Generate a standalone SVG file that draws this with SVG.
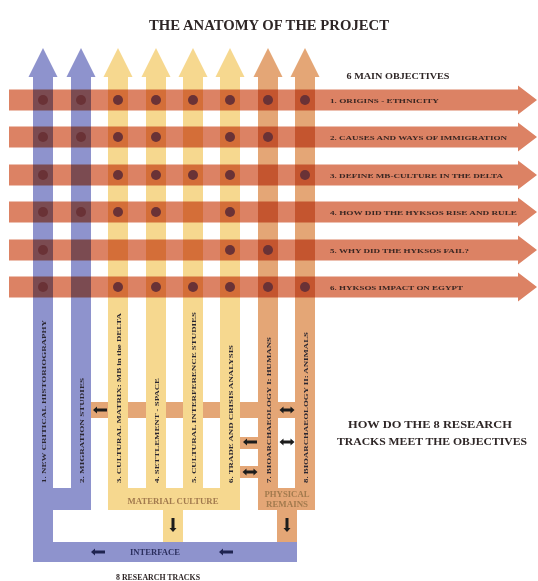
<svg xmlns="http://www.w3.org/2000/svg" width="538" height="581" viewBox="0 0 538 581">
<defs>
<style>
.t{font-family:"Liberation Serif","Times New Roman",serif;font-weight:bold;}
.blue{fill:#8e93cd}
.yel{fill:#f6d88f}
.ora{fill:#e4a676}
.band{fill:#dc8264;mix-blend-mode:multiply}
.dot{fill:#6a3236}
.arr{fill:#1c1c1c}
.ink{fill:#2e2626}
.vl{font-size:7px;fill:#2a2630}
.ol{font-size:7px;fill:#3a2622}
.grp{font-size:7.5px;fill:#a27a4e}
</style>
<path id="dbl" d="M-7.5,0 L-3.5,-3.5 L-3.5,-1.5 L3.5,-1.5 L3.5,-3.5 L7.5,0 L3.5,3.5 L3.5,1.5 L-3.5,1.5 L-3.5,3.5 Z"/>
<path id="left" d="M-7,0 L-3,-3.5 L-3,-1.5 L7,-1.5 L7,1.5 L-3,1.5 L-3,3.5 Z"/>
<path id="down" d="M0,7 L-3.5,3 L-1.5,3 L-1.5,-7 L1.5,-7 L1.5,3 L3.5,3 Z"/>
</defs>
<rect width="538" height="581" fill="#ffffff"/>

<text class="t ink" x="269" y="30" font-size="14.5" text-anchor="middle" textLength="240" lengthAdjust="spacingAndGlyphs">THE ANATOMY OF THE PROJECT</text>
<text class="t ink" x="398" y="79" font-size="9" text-anchor="middle" textLength="103" lengthAdjust="spacingAndGlyphs">6 MAIN OBJECTIVES</text>

<!-- cross links behind tracks -->
<g id="cross-links">
<rect class="ora" x="91" y="402" width="224" height="16"/>
<rect class="ora" x="240" y="437" width="18" height="12"/>
<rect class="ora" x="240" y="466" width="18" height="12"/>
</g>

<!-- research tracks -->
<g id="track-1">
<polygon class="blue" points="43,48 57.5,77 28.5,77"/>
<rect class="blue" x="33" y="77" width="20" height="485"/>
</g>
<g id="track-2">
<polygon class="blue" points="81,48 95.5,77 66.5,77"/>
<rect class="blue" x="71" y="77" width="20" height="433"/>
</g>
<g id="history-migration-link">
<rect class="blue" x="33" y="488" width="58" height="22"/>
</g>
<g id="track-3">
<polygon class="yel" points="118,48 132.5,77 103.5,77"/>
<rect class="yel" x="108" y="77" width="20" height="433"/>
</g>
<g id="track-4">
<polygon class="yel" points="156,48 170.5,77 141.5,77"/>
<rect class="yel" x="146" y="77" width="20" height="433"/>
</g>
<g id="track-5">
<polygon class="yel" points="193,48 207.5,77 178.5,77"/>
<rect class="yel" x="183" y="77" width="20" height="433"/>
</g>
<g id="track-6">
<polygon class="yel" points="230,48 244.5,77 215.5,77"/>
<rect class="yel" x="220" y="77" width="20" height="433"/>
</g>
<g id="track-7">
<polygon class="ora" points="268,48 282.5,77 253.5,77"/>
<rect class="ora" x="258" y="77" width="20" height="433"/>
</g>
<g id="track-8">
<polygon class="ora" points="305,48 319.5,77 290.5,77"/>
<rect class="ora" x="295" y="77" width="20" height="433"/>
</g>

<g id="material-culture">
<rect class="yel" x="108" y="488" width="132" height="22"/>
<rect class="yel" x="163" y="509" width="20" height="33"/>
<text class="t grp" x="173" y="504" text-anchor="middle" textLength="91" lengthAdjust="spacingAndGlyphs">MATERIAL CULTURE</text>
</g>
<g id="physical-remains">
<rect class="ora" x="258" y="488" width="57" height="22"/>
<rect class="ora" x="277" y="509" width="20" height="33"/>
<text class="t grp" x="287" y="497" font-size="6.5" text-anchor="middle" textLength="45" lengthAdjust="spacingAndGlyphs">PHYSICAL</text>
<text class="t grp" x="287" y="507" font-size="6.5" text-anchor="middle" textLength="42" lengthAdjust="spacingAndGlyphs">REMAINS</text>
</g>
<g id="interface">
<rect class="blue" x="33" y="542" width="264" height="20"/>
<text class="t" x="155" y="555" font-size="7.5" fill="#2c2f5e" text-anchor="middle" textLength="50" lengthAdjust="spacingAndGlyphs">INTERFACE</text>
</g>

<!-- objectives -->
<g id="objective-1">
<polygon class="band" points="9,89.5 518,89.5 518,85.5 537,100 518,114.5 518,110.5 9,110.5"/>
</g>
<g id="objective-2">
<polygon class="band" points="9,126.5 518,126.5 518,122.5 537,137 518,151.5 518,147.5 9,147.5"/>
</g>
<g id="objective-3">
<polygon class="band" points="9,164.5 518,164.5 518,160.5 537,175 518,189.5 518,185.5 9,185.5"/>
</g>
<g id="objective-4">
<polygon class="band" points="9,201.5 518,201.5 518,197.5 537,212 518,226.5 518,222.5 9,222.5"/>
</g>
<g id="objective-5">
<polygon class="band" points="9,239.5 518,239.5 518,235.5 537,250 518,264.5 518,260.5 9,260.5"/>
</g>
<g id="objective-6">
<polygon class="band" points="9,276.5 518,276.5 518,272.5 537,287 518,301.5 518,297.5 9,297.5"/>
</g>

<g id="objective-labels">
<text class="t ol" x="330" y="102.5" textLength="109" lengthAdjust="spacingAndGlyphs">1. ORIGINS - ETHNICITY</text>
<text class="t ol" x="330" y="139.5" textLength="177" lengthAdjust="spacingAndGlyphs">2. CAUSES AND WAYS OF IMMIGRATION</text>
<text class="t ol" x="330" y="177.5" textLength="173" lengthAdjust="spacingAndGlyphs">3. DEFINE MB-CULTURE IN THE DELTA</text>
<text class="t ol" x="330" y="214.5" textLength="187" lengthAdjust="spacingAndGlyphs">4. HOW DID THE HYKSOS RISE AND RULE</text>
<text class="t ol" x="330" y="252.5" textLength="139" lengthAdjust="spacingAndGlyphs">5. WHY DID THE HYKSOS FAIL?</text>
<text class="t ol" x="330" y="289.5" textLength="133" lengthAdjust="spacingAndGlyphs">6. HYKSOS IMPACT ON EGYPT</text>
</g>

<!-- intersection marks -->
<g id="intersections">
<circle class="dot" cx="43" cy="100" r="5"/><circle class="dot" cx="81" cy="100" r="5"/><circle class="dot" cx="118" cy="100" r="5"/><circle class="dot" cx="156" cy="100" r="5"/><circle class="dot" cx="193" cy="100" r="5"/><circle class="dot" cx="230" cy="100" r="5"/><circle class="dot" cx="268" cy="100" r="5"/><circle class="dot" cx="305" cy="100" r="5"/>
<circle class="dot" cx="43" cy="137" r="5"/><circle class="dot" cx="81" cy="137" r="5"/><circle class="dot" cx="118" cy="137" r="5"/><circle class="dot" cx="156" cy="137" r="5"/><circle class="dot" cx="230" cy="137" r="5"/><circle class="dot" cx="268" cy="137" r="5"/>
<circle class="dot" cx="43" cy="175" r="5"/><circle class="dot" cx="118" cy="175" r="5"/><circle class="dot" cx="156" cy="175" r="5"/><circle class="dot" cx="193" cy="175" r="5"/><circle class="dot" cx="230" cy="175" r="5"/><circle class="dot" cx="305" cy="175" r="5"/>
<circle class="dot" cx="43" cy="212" r="5"/><circle class="dot" cx="81" cy="212" r="5"/><circle class="dot" cx="118" cy="212" r="5"/><circle class="dot" cx="156" cy="212" r="5"/><circle class="dot" cx="230" cy="212" r="5"/>
<circle class="dot" cx="43" cy="250" r="5"/><circle class="dot" cx="230" cy="250" r="5"/><circle class="dot" cx="268" cy="250" r="5"/>
<circle class="dot" cx="43" cy="287" r="5"/><circle class="dot" cx="118" cy="287" r="5"/><circle class="dot" cx="156" cy="287" r="5"/><circle class="dot" cx="193" cy="287" r="5"/><circle class="dot" cx="230" cy="287" r="5"/><circle class="dot" cx="268" cy="287" r="5"/><circle class="dot" cx="305" cy="287" r="5"/>
</g>

<!-- track labels -->
<g id="track-labels">
<text class="t vl" transform="translate(45.5,483) rotate(-90)" textLength="163" lengthAdjust="spacingAndGlyphs">1. NEW CRITICAL HISTORIOGRAPHY</text>
<text class="t vl" transform="translate(83.5,483) rotate(-90)" textLength="105" lengthAdjust="spacingAndGlyphs">2. MIGRATION STUDIES</text>
<text class="t vl" transform="translate(120.5,483) rotate(-90)" textLength="170" lengthAdjust="spacingAndGlyphs">3. CULTURAL MATRIX: MB in the DELTA</text>
<text class="t vl" transform="translate(158.5,483) rotate(-90)" textLength="105" lengthAdjust="spacingAndGlyphs">4. SETTLEMENT - SPACE</text>
<text class="t vl" transform="translate(195.5,483) rotate(-90)" textLength="171" lengthAdjust="spacingAndGlyphs">5. CULTURAL INTERFERENCE STUDIES</text>
<text class="t vl" transform="translate(232.5,483) rotate(-90)" textLength="138" lengthAdjust="spacingAndGlyphs">6. TRADE AND CRISIS ANALYSIS</text>
<text class="t vl" transform="translate(270.5,483) rotate(-90)" textLength="146" lengthAdjust="spacingAndGlyphs">7. BIOARCHAEOLOGY I: HUMANS</text>
<text class="t vl" transform="translate(307.5,483) rotate(-90)" textLength="151" lengthAdjust="spacingAndGlyphs">8. BIOARCHAEOLOGY II: ANIMALS</text>
</g>

<!-- connectors -->
<g id="connectors">
<use href="#left" class="arr" x="100" y="410"/>
<use href="#dbl" class="arr" x="287" y="410"/>
<use href="#left" class="arr" x="250" y="442"/>
<use href="#dbl" class="arr" x="287" y="442"/>
<use href="#dbl" class="arr" x="250" y="472"/>
<use href="#down" class="arr" x="173" y="525"/>
<use href="#down" class="arr" x="287" y="525"/>
<use href="#left" x="98" y="552" fill="#1f2450"/>
<use href="#left" x="226" y="552" fill="#1f2450"/>
</g>

<text class="t ink" x="430" y="428" font-size="10" text-anchor="middle" textLength="164" lengthAdjust="spacingAndGlyphs">HOW DO THE  8 RESEARCH</text>
<text class="t ink" x="432" y="445" font-size="10" text-anchor="middle" textLength="190" lengthAdjust="spacingAndGlyphs">TRACKS MEET THE OBJECTIVES</text>
<text class="t ink" x="158" y="580" font-size="8" text-anchor="middle" textLength="84" lengthAdjust="spacingAndGlyphs">8 RESEARCH TRACKS</text>
</svg>
